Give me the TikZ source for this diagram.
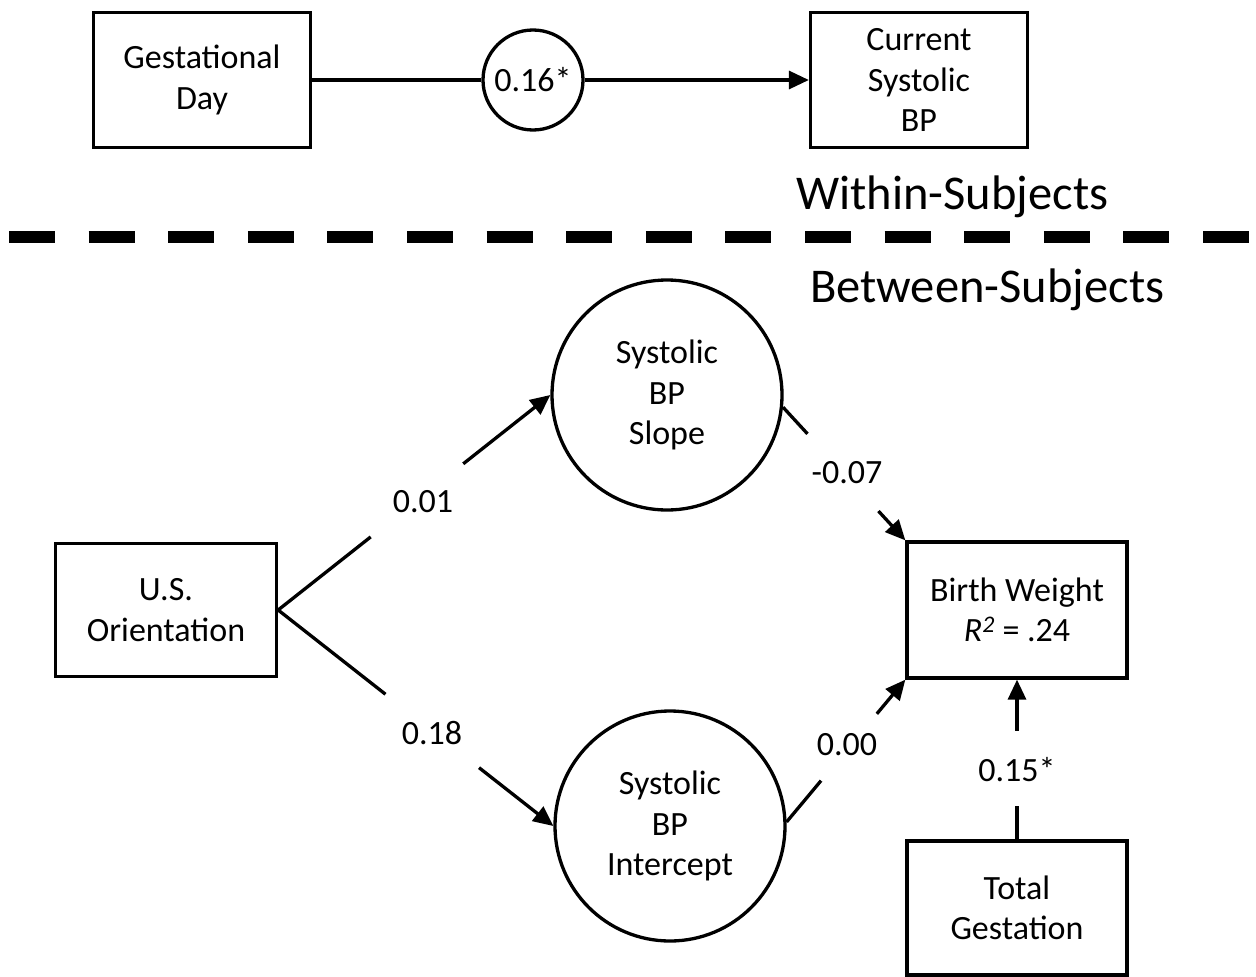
\documentclass[tikz,border=0pt]{standalone}
\usepackage{fontspec}
\setmainfont{Carlito}
\usetikzlibrary{arrows.meta,calc}
\begin{document}
\begin{tikzpicture}[x=1pt,y=-1pt,
  txt/.style={font=\fontsize{34}{40.5}\selectfont},
  box/.style={txt,draw,line width=3.3pt,rectangle,inner sep=0pt,align=center},
  circ/.style={txt,draw,line width=3.3pt,circle,inner sep=0pt,align=center},
  lbl/.style={txt,inner sep=0pt},
  head/.style={font=\fontsize{48.5}{56}\selectfont,inner sep=0pt,anchor=base west},
  ln/.style={line width=3.3pt},
  arr/.style={line width=3.3pt,-{Triangle[length=20pt,width=18pt]}},
  divider/.style={line width=11.5pt,dash pattern=on 46pt off 33.6pt}
]
\useasboundingbox (0,0) rectangle (1256,977);

% within-subjects part
\node[box,minimum width=217pt,minimum height=135pt] (gd) at (202,80) {Gestational\\Day};
\node[circ,minimum size=100pt] (c16) at (533,80) {0.16*};
\node[box,minimum width=217pt,minimum height=135pt] (cur) at (919,80) {Current\\Systolic\\BP};
\draw[ln] (gd) -- (c16);
\draw[arr] (c16) -- (cur);

\node[head] (within) at (796,209) {Within-Subjects};
\coordinate (dl) at (9,237);
\coordinate (dr) at (1256,237);
\draw[divider] (dl) -- (dr);
\node[head] (between) at (810,302) {Between-Subjects};

% between-subjects part
\node[box,minimum width=221pt,minimum height=133pt] (us) at (166,610) {U.S.\\Orientation};
\node[circ,minimum size=230pt] (slope) at (667,395) {Systolic\\BP\\Slope};
\node[circ,minimum size=230pt] (inter) at (670,826) {Systolic\\BP\\Intercept};
\node[box,minimum width=220pt,minimum height=136pt] (bw) at (1017,610) {Birth Weight\\\textit{R\textsuperscript{2}} = .24};
\node[box,minimum width=220pt,minimum height=134pt] (tg) at (1017,908) {Total\\Gestation};

% US -> slope
\draw[ln] (us.east) -- ($(us.east)!0.34!(slope.west)$);
\draw[arr] ($(us.east)!0.68!(slope.west)$) -- (slope.west);
\node[lbl] (l01) at (423,502) {0.01};

% US -> intercept
\draw[ln] (us.east) -- ($(us.east)!0.39!(inter.west)$);
\draw[arr] ($(us.east)!0.73!(inter.west)$) -- (inter.west);
\node[lbl] (l18) at (432,733) {0.18};

% slope -> birth weight
\draw[ln] (slope.-6) -- ($(slope.-6)!0.2!(bw.north west)$);
\draw[arr] ($(slope.-6)!0.78!(bw.north west)$) -- (bw.north west);
\node[lbl] (l07) at (847,473) {-0.07};

% intercept -> birth weight
\draw[ln] (inter.2) -- ($(inter.2)!0.29!(bw.south west)$);
\draw[arr] ($(inter.2)!0.76!(bw.south west)$) -- (bw.south west);
\node[lbl] (l00) at (847,745) {0.00};

% total gestation -> birth weight
\draw[ln] (tg.north) -- ($(tg.north)!0.21!(bw.south)$);
\draw[arr] ($(tg.north)!0.68!(bw.south)$) -- (bw.south);
\node[lbl] (l15) at (1017,770) {0.15*};
\end{tikzpicture}
\end{document}
